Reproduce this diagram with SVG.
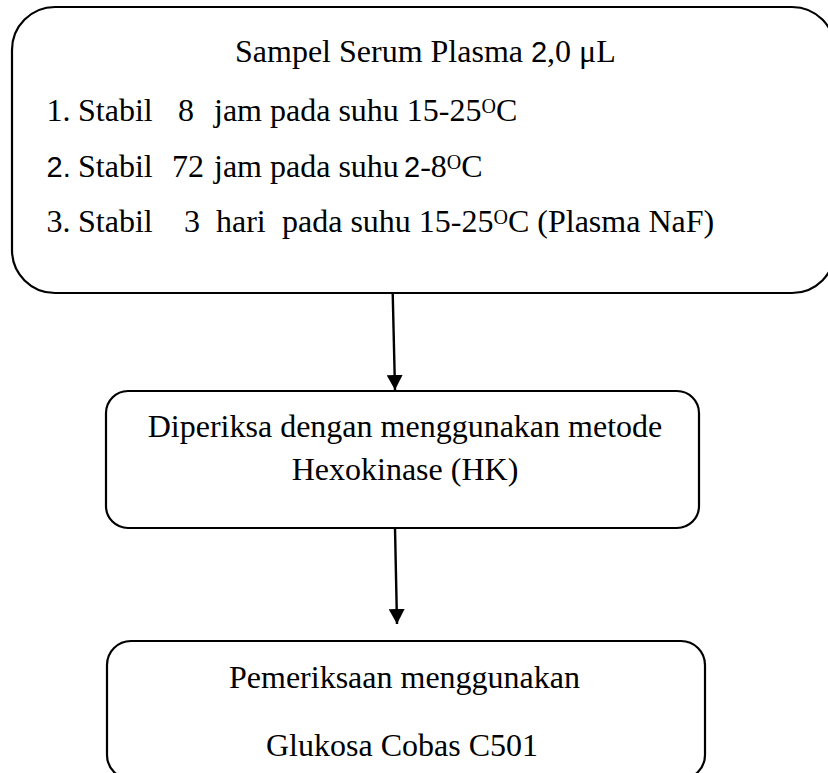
<svg xmlns="http://www.w3.org/2000/svg" width="828" height="773" viewBox="0 0 828 773">
<style>
.box{fill:#fff;stroke:#000;stroke-width:2.2}
.t{font-family:"Liberation Serif","Times New Roman",serif;font-size:32px;fill:#000}
.s{font-family:"Liberation Sans",Arial,sans-serif;font-size:29px}
.sup{font-size:20px}
.conn{stroke:#000;stroke-width:2.4;fill:none}
</style>
<defs>
<marker id="ah" markerUnits="userSpaceOnUse" markerWidth="16" markerHeight="16" viewBox="0 0 16 16" refX="15" refY="8" orient="auto">
<path d="M0,0 L15,8 L0,16 Z" fill="#000"/>
</marker>
</defs>
<rect width="828" height="773" fill="#fff"/>
<g id="node-sampel">
<rect class="box" x="12" y="7" width="823" height="286" rx="43" ry="43"/>
<text class="t" x="235" y="62">Sampel Serum Plasma <tspan class="s">2</tspan>,0 μL</text>
<text class="t" y="121"><tspan x="46.5">1.</tspan><tspan x="78">Stabil</tspan><tspan x="178">8</tspan><tspan x="214">jam pada suhu 15-25</tspan><tspan class="sup" dy="-8">O</tspan><tspan dy="8">C</tspan></text>
<text class="t" y="177"><tspan class="s" x="46.5">2.</tspan><tspan x="78">Stabil</tspan><tspan x="172">72</tspan><tspan x="214">jam pada suhu</tspan><tspan class="s" x="404">2</tspan><tspan>-8</tspan><tspan class="sup" dy="-8">O</tspan><tspan dy="8">C</tspan></text>
<text class="t" y="232"><tspan x="46.5">3.</tspan><tspan x="78">Stabil</tspan><tspan x="184">3</tspan><tspan x="216">hari</tspan><tspan x="282">pada suhu 15-25</tspan><tspan class="sup" dy="-8">O</tspan><tspan dy="8">C (Plasma NaF)</tspan></text>
</g>
<g id="node-hexokinase">
<rect class="box" x="106" y="391" width="593" height="137" rx="22" ry="22"/>
<text class="t" x="405" y="437" text-anchor="middle">Diperiksa dengan menggunakan metode</text>
<text class="t" x="405" y="480" text-anchor="middle">Hexokinase (HK)</text>
</g>
<g id="node-cobas">
<rect class="box" x="107" y="641" width="598" height="138" rx="24" ry="24"/>
<text class="t" x="404.5" y="688" text-anchor="middle">Pemeriksaan menggunakan</text>
<text class="t" x="402" y="756" text-anchor="middle">Glukosa Cobas C501</text>
</g>
<g id="connectors">
<line class="conn" x1="392.7" y1="293" x2="395" y2="390" marker-end="url(#ah)"/>
<line class="conn" x1="395" y1="528" x2="397" y2="624" marker-end="url(#ah)"/>
</g>
</svg>
